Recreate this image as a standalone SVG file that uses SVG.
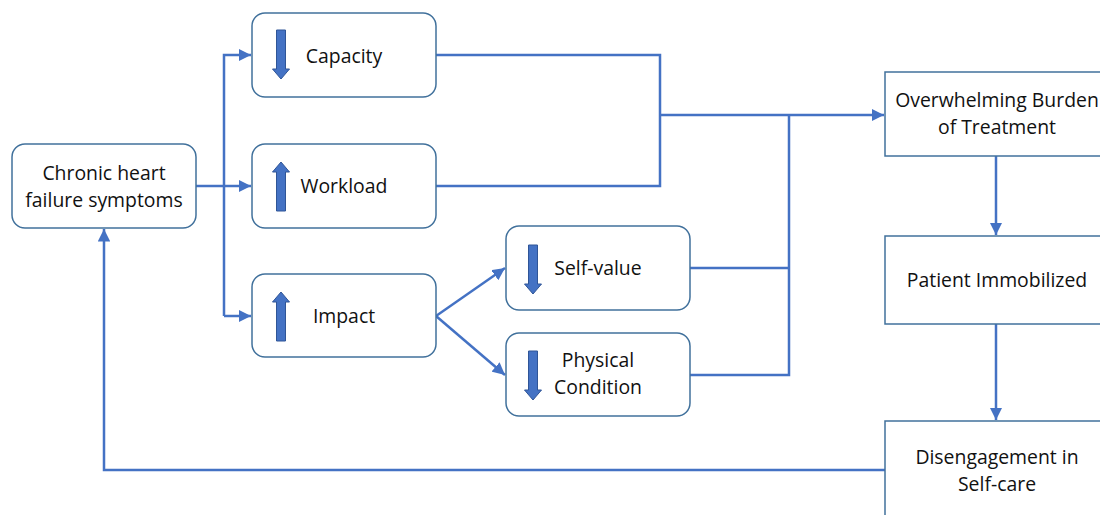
<svg xmlns="http://www.w3.org/2000/svg" width="1100" height="515" viewBox="0 0 1100 515">
<defs>
<style>
.rb{fill:#fff;stroke:#41719C;stroke-width:1.5}
.sb{fill:#fff;stroke:#41719C;stroke-width:1.5}
.t{font-family:"Open Sans","Liberation Sans",sans-serif;font-size:19.4px;fill:#111;text-anchor:middle}
.c{fill:none;stroke:#4472C4;stroke-width:2.5}
.ic{fill:#4472C4;stroke:#2F5597;stroke-width:1}
</style>
<marker id="ah" viewBox="0 0 10 10" refX="10" refY="5" markerWidth="5" markerHeight="5" markerUnits="strokeWidth" orient="auto">
<path d="M0,0 L10,5 L0,10 z" fill="#4472C4"/>
</marker>
<path id="down" d="M-4.5,-25 H4.5 V14 H8.5 L0,24 L-8.5,14 H-4.5 Z"/>
<path id="up" d="M-4.5,25 H4.5 V-14 H8.5 L0,-24 L-8.5,-14 H-4.5 Z"/>
</defs>
<rect width="1100" height="515" fill="#fff"/>
<g id="connectors">
<polyline class="c" points="196,186 224,186"/>
<polyline class="c" points="224,316 224,55 251,55" marker-end="url(#ah)"/>
<polyline class="c" points="224,186 251,186" marker-end="url(#ah)"/>
<polyline class="c" points="224,316 251,316" marker-end="url(#ah)"/>
<polyline class="c" points="436,55 660,55 660,186 436,186"/>
<polyline class="c" points="660,115 884,115" marker-end="url(#ah)"/>
<polyline class="c" points="690,268 789,268"/>
<polyline class="c" points="690,375 789,375 789,115"/>
<polyline class="c" points="436,316 505,268" marker-end="url(#ah)"/>
<polyline class="c" points="436,316 505,375" marker-end="url(#ah)"/>
<polyline class="c" points="996,156 996,235" marker-end="url(#ah)"/>
<polyline class="c" points="996,324 996,420" marker-end="url(#ah)"/>
<polyline class="c" points="885,470 104,470 104,229" marker-end="url(#ah)"/>
</g>
<g id="chronic">
<rect class="rb" x="12" y="144" width="184" height="84" rx="13"/>
<text class="t" x="104" y="180">Chronic heart</text>
<text class="t" x="104" y="207">failure symptoms</text>
</g>
<g id="capacity">
<rect class="rb" x="252" y="13" width="184" height="84" rx="13"/>
<use href="#down" class="ic" x="281" y="55"/>
<text class="t" x="344" y="63">Capacity</text>
</g>
<g id="workload">
<rect class="rb" x="252" y="144" width="184" height="84" rx="13"/>
<use href="#up" class="ic" x="281" y="186"/>
<text class="t" x="344" y="193">Workload</text>
</g>
<g id="impact">
<rect class="rb" x="252" y="274" width="184" height="83" rx="13"/>
<use href="#up" class="ic" x="281" y="316"/>
<text class="t" x="344" y="323">Impact</text>
</g>
<g id="selfvalue">
<rect class="rb" x="506" y="226" width="184" height="84" rx="13"/>
<use href="#down" class="ic" x="533" y="270"/>
<text class="t" x="598" y="275">Self-value</text>
</g>
<g id="physical">
<rect class="rb" x="506" y="333" width="184" height="83" rx="13"/>
<use href="#down" class="ic" x="533" y="376"/>
<text class="t" x="598" y="367">Physical</text>
<text class="t" x="598" y="394">Condition</text>
</g>
<g id="burden">
<rect class="sb" x="885" y="72" width="224" height="84"/>
<text class="t" x="997" y="107">Overwhelming Burden</text>
<text class="t" x="997" y="134">of Treatment</text>
</g>
<g id="immobilized">
<rect class="sb" x="885" y="236" width="224" height="88"/>
<text class="t" x="997" y="287">Patient Immobilized</text>
</g>
<g id="disengagement">
<rect class="sb" x="885" y="421" width="224" height="110"/>
<text class="t" x="997" y="464">Disengagement in</text>
<text class="t" x="997" y="491">Self-care</text>
</g>
</svg>
